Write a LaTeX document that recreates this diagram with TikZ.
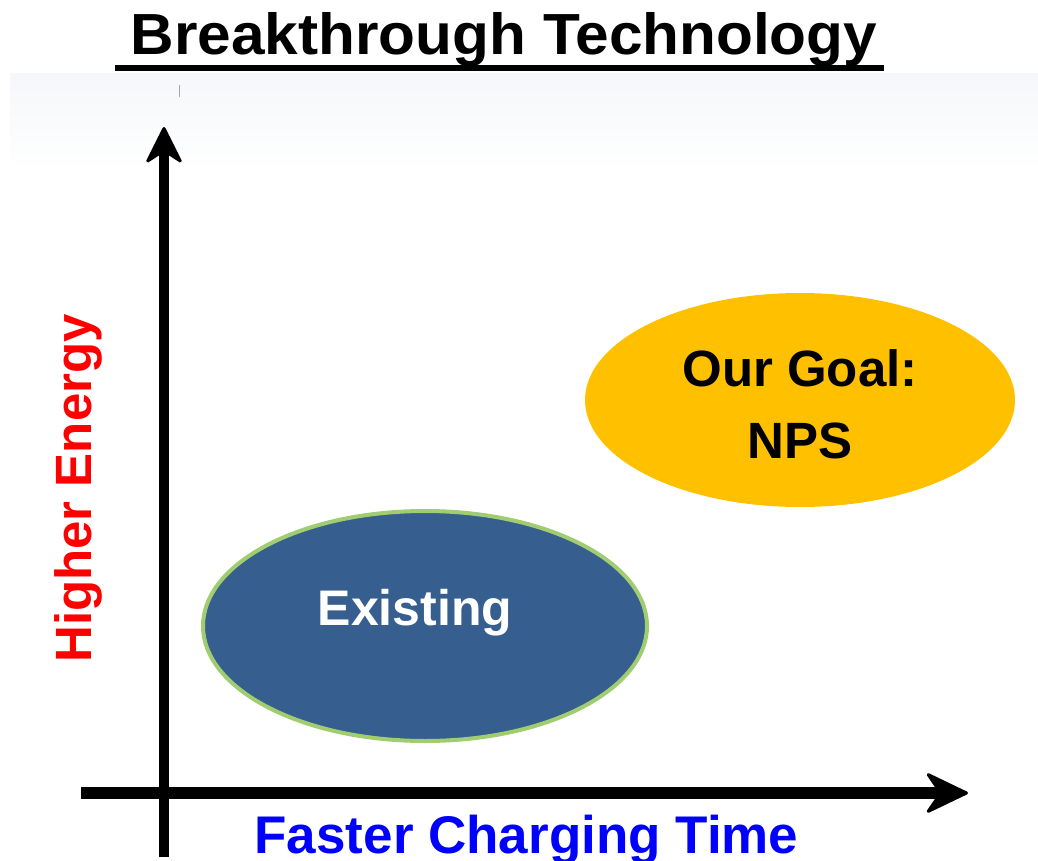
\documentclass[tikz,border=0pt]{standalone}
\usepackage{fontspec}
\setmainfont{Liberation Sans}
\usetikzlibrary{arrows.meta,shapes.geometric}

\definecolor{existfill}{RGB}{54,94,142}
\definecolor{existrim}{RGB}{160,205,112}
\definecolor{goalfill}{RGB}{255,192,0}
\definecolor{bandtop}{RGB}{245,247,250}
\definecolor{axisred}{RGB}{255,0,0}
\definecolor{axisblue}{RGB}{0,0,255}

\newcommand{\fsz}[1]{\fontsize{#1}{#1}\selectfont}

\begin{document}
\begin{tikzpicture}[x=1pt,y=-1pt,
  axisline/.style={black,line cap=butt},
  blob/.style={ellipse,inner sep=0pt},
  lbl/.style={anchor=base,inner sep=0pt,font=\bfseries\fsz{51}}]

\useasboundingbox (0,0) rectangle (1038,861);

% faint header band
\shade[top color=bandtop,bottom color=white] (10,74) rectangle (1038,172);
\draw[gray!70,line width=0.8] (179,85) -- (179,97);

% title
\node[anchor=base,inner sep=0pt] (title) at (504,55)
  {\scalebox{1.04}[1]{\bfseries\fsz{58}Breakthrough Technology}};
\draw[line width=6] (115,68.5) -- (884,68.5);

% axes
\coordinate (ybot) at (164,857);
\coordinate (ytop) at (164,127);
\coordinate (xleft) at (81,793);
\coordinate (xright) at (968,793);
\draw[axisline,line width=10,
  -{Stealth[length=40pt,width=40pt,inset=13pt,round,line width=3pt]}]
  (ybot) -- (ytop);
\draw[axisline,line width=12,
  -{Stealth[length=46pt,width=44pt,inset=15pt,round,line width=3pt]}]
  (xleft) -- (xright);

% axis labels
\node[lbl,text=axisred,rotate=90] (ylabel) at (91.5,488.5) {Higher Energy};
\node[lbl,text=axisblue,font=\bfseries\fsz{53}] (xlabel) at (526.5,853) {Faster Charging Time};

% regions
\node[blob,fill=existfill,draw=existrim,line width=4,
  minimum width=444pt,minimum height=230pt] (existing) at (425,626) {};
\node[blob,fill=goalfill,minimum width=430pt,minimum height=214pt] (goal) at (800,400) {};

\node[lbl,text=white,font=\bfseries\fsz{50}] (existtext) at (415,625) {Existing};
\node[lbl] (goaltext) at (800,386) {Our Goal:};
\node[lbl] (npstext) at (800,458) {NPS};

\end{tikzpicture}
\end{document}
